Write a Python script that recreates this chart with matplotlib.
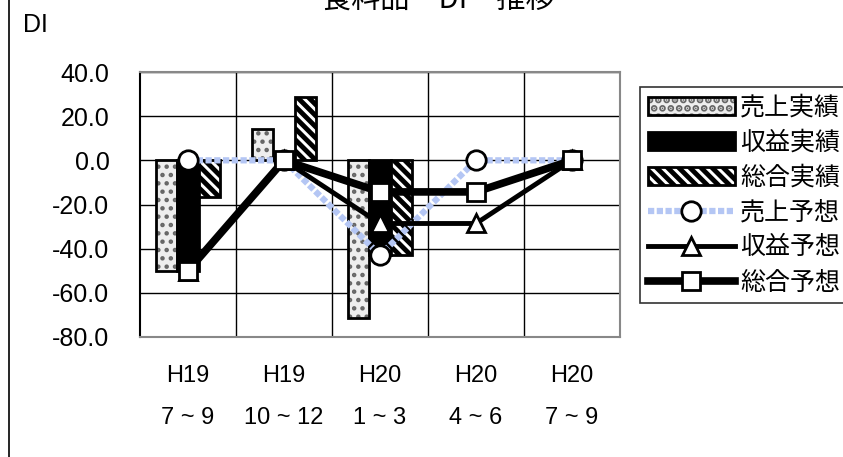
import matplotlib
matplotlib.use("Agg")
import matplotlib.pyplot as plt
import numpy as np
from matplotlib.lines import Line2D

# Data
periods = ["H19\n7 ~ 9", "H19\n10 ~ 12", "H20\n1 ~ 3", "H20\n4 ~ 6", "H20\n7 ~ 9"]
sales_actual = [-50.0, 14.3, -71.4, np.nan, np.nan]
profit_actual = [-50.0, 0.0, -42.9, np.nan, np.nan]
total_actual = [-16.7, 28.6, -42.9, np.nan, np.nan]
sales_forecast = [0.0, 0.0, -42.9, 0.0, 0.0]
profit_forecast = [-50.0, 0.0, -28.6, -28.6, 0.0]
total_forecast = [-50.0, 0.0, -14.3, -14.3, 0.0]
yticks = [40, 20, 0, -20, -40, -60, -80]

W, H = 843, 457
plt.rcParams["font.family"] = ["Liberation Sans", "Noto Sans CJK JP"]
plt.rcParams["hatch.linewidth"] = 3.5

fig = plt.figure(figsize=(W / 100, H / 100), dpi=100)
ax = fig.add_axes([140 / W, 1 - 337 / H, 480 / W, 265 / H])

x = np.arange(len(periods))
bw = 0.224

# dotted bars: grey dots texture, then a black outline on top
b1a = ax.bar(x - bw, sales_actual, bw, facecolor="#eeeeee", edgecolor="#666666",
             linewidth=0, hatch="..", zorder=2)
b1b = ax.bar(x - bw, sales_actual, bw, fill=False, edgecolor="black",
             linewidth=2, zorder=2)
b2 = ax.bar(x, profit_actual, bw, facecolor="black", edgecolor="black",
            linewidth=2, zorder=2)
b3 = ax.bar(x + bw, total_actual, bw, facecolor="white", edgecolor="black",
            linewidth=2, hatch="\\\\\\", zorder=2)
for p in b1a:
    if hasattr(p, "set_hatch_linewidth"):
        p.set_hatch_linewidth(2.0)

l1, = ax.plot(x, sales_forecast, color="#b4c6f4", lw=4.5, linestyle=(0, (1, 0.4)),
              marker="o", ms=14, mfc="white", mec="black", mew=2, zorder=3)
l2, = ax.plot(x, profit_forecast, color="black", lw=3.5, marker="^", ms=13,
              mfc="white", mec="black", mew=2, zorder=4)
l3, = ax.plot(x, total_forecast, color="black", lw=5.5, marker="s", ms=13,
              mfc="white", mec="black", mew=2, zorder=5)

ax.set_xlim(-0.5, len(periods) - 0.5)
ax.set_ylim(-80, 40)
ax.set_yticks(yticks)
ax.set_yticklabels([f"{v:.1f}" for v in yticks], fontsize=18)
ax.set_xticks(x)
ax.set_xticklabels(periods, fontsize=17, linespacing=2.2)
ax.tick_params(axis="y", length=0, pad=22)
ax.tick_params(axis="x", length=0, pad=20)

# grid between categories and at each y tick
ax.set_xticks(x[:-1] + 0.5, minor=True)
ax.grid(True, which="minor", axis="x", color="black", lw=1, zorder=1)
ax.grid(True, which="major", axis="y", color="black", lw=1, zorder=1)
ax.tick_params(which="minor", length=0)
ax.set_axisbelow(True)
for name, s in ax.spines.items():
    s.set_color("black" if name == "left" else "#888888")
    s.set_linewidth(1.5)

leg = ax.legend([(b1a, b1b), b2, b3, l1, l2, l3],
                ["売上実績", "収益実績", "総合実績", "売上予想", "収益予想", "総合予想"],
                loc="upper left", bbox_to_anchor=(640 / W, 1 - 87 / H),
                bbox_transform=fig.transFigure,
                prop={"family": "Noto Sans CJK JP", "size": 18},
                frameon=True, fancybox=False, edgecolor="black",
                handlelength=3.5, handletextpad=0.2, labelspacing=0.36,
                borderpad=0.3, borderaxespad=0)
leg.get_frame().set_linewidth(1.2)

fig.text(438 / W, 1 - 16 / H, "食料品　DI　推移", ha="center", va="bottom",
         fontsize=21, family="Noto Sans CJK JP")
fig.text(23 / W, 1 - 32 / H, "DI", ha="left", va="baseline", fontsize=18)
fig.add_artist(Line2D([9 / W, 9 / W], [0, 1], transform=fig.transFigure,
                      color="black", lw=1.2))

fig.savefig("out.png", dpi=100)
